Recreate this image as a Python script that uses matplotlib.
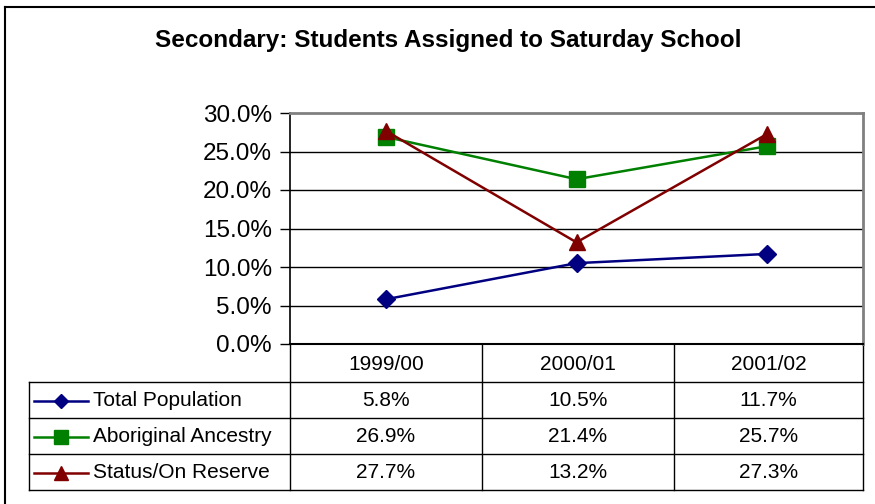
import matplotlib.pyplot as plt
from matplotlib.lines import Line2D

plt.rcParams['font.family'] = ['Liberation Sans', 'DejaVu Sans']

title = 'Secondary: Students Assigned to Saturday School'
years = ['1999/00', '2000/01', '2001/02']
series_names = ['Total Population', 'Aboriginal Ancestry', 'Status/On Reserve']
total_pop = [5.8, 10.5, 11.7]
aboriginal = [26.9, 21.4, 25.7]
status_reserve = [27.7, 13.2, 27.3]
y_ticks = [0, 5, 10, 15, 20, 25, 30]

colors = ['#000080', '#008000', '#800000']
markers = ['D', 's', '^']
msizes = [9, 11, 11.5]
values = [total_pop, aboriginal, status_reserve]

W, H = 875, 504
fig = plt.figure(figsize=(W / 100, H / 100), dpi=100)


def px_rect(x0, y0, x1, y1):
    return [x0 / W, 1 - y1 / H, (x1 - x0) / W, (y1 - y0) / H]


# overlay in pixel coordinates for frame, title and table
over = fig.add_axes([0, 0, 1, 1])
over.set_xlim(0, W)
over.set_ylim(H, 0)
over.axis('off')

over.plot([5, 5], [7, H], color='black', lw=1.5)
over.plot([5, W], [7, 7], color='black', lw=1.5)
over.text(448, 40, title, ha='center', va='center', fontsize=17.5, fontweight='bold')

# plot area
ax = fig.add_axes(px_rect(290, 113, 863, 344))
for i, (name, vals) in enumerate(zip(series_names, values)):
    ax.plot(range(len(years)), vals, color=colors[i], lw=1.8, marker=markers[i],
            markersize=msizes[i], markeredgecolor=colors[i], zorder=3)
ax.set_xlim(-0.5, len(years) - 0.5)
ax.set_ylim(0, 30)
ax.set_yticks(y_ticks)
ax.set_yticklabels([f'{t:.1f}%' for t in y_ticks], fontsize=17.5)
ax.set_xticks([])
for t in y_ticks[1:-1]:
    ax.axhline(t, color='black', lw=1, zorder=1)
ax.spines['top'].set_color('#808080')
ax.spines['right'].set_color('#808080')
ax.spines['top'].set_linewidth(2)
ax.spines['right'].set_linewidth(2)
ax.spines['left'].set_linewidth(1.2)
ax.spines['bottom'].set_linewidth(1.5)
ax.tick_params(axis='y', direction='out', length=7, width=1, pad=6)

# data table
col_edges = [290, 482, 674, 863]
row_edges = [344, 382, 418, 454, 490]
label_left = 29
over.plot([label_left, col_edges[-1]], [row_edges[1]] * 2, color='black', lw=1)
for y in row_edges[2:]:
    over.plot([label_left, col_edges[-1]], [y, y], color='black', lw=1)
over.plot([label_left, label_left], [row_edges[1], row_edges[-1]], color='black', lw=1)
for x in col_edges:
    over.plot([x, x], [row_edges[0], row_edges[-1]], color='black', lw=1)

for j, yr in enumerate(years):
    cx = (col_edges[j] + col_edges[j + 1]) / 2
    over.text(cx, (row_edges[0] + row_edges[1]) / 2 + 1, yr, ha='center', va='center', fontsize=15)

for i, (name, vals) in enumerate(zip(series_names, values)):
    cy = (row_edges[i + 1] + row_edges[i + 2]) / 2 + 1
    over.add_line(Line2D([34, 88], [cy, cy], color=colors[i], lw=1.8))
    over.plot([61], [cy], marker=markers[i], color=colors[i], markersize=msizes[i] - 1.5)
    over.text(93, cy, name, ha='left', va='center', fontsize=15)
    for j, v in enumerate(vals):
        cx = (col_edges[j] + col_edges[j + 1]) / 2
        over.text(cx, cy, f'{v:.1f}%', ha='center', va='center', fontsize=15)

fig.savefig('out.png', dpi=100)
